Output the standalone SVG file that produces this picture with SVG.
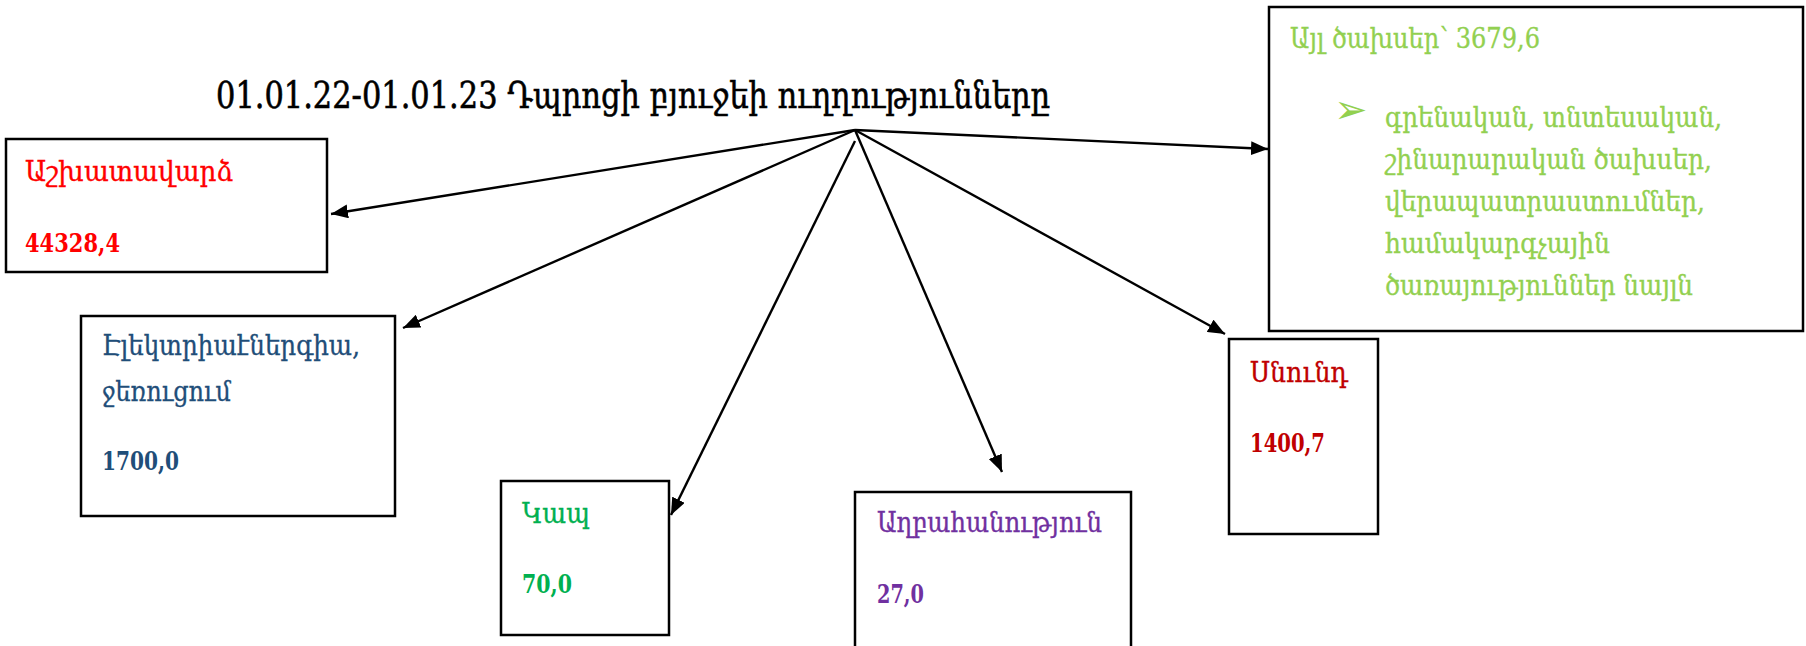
<svg xmlns="http://www.w3.org/2000/svg" width="1806" height="646" viewBox="0 0 1806 646">
<style>
text{font-family:"DejaVu Serif","Noto Sans",serif;font-size:28px;stroke-width:0.35}
.t{font-size:37px;fill:#000;stroke:#000;stroke-width:0.6}
.b{font-weight:bold;font-size:26px;stroke-width:0}
.box{fill:#fff;stroke:#000;stroke-width:2.5}
.con{stroke:#000;stroke-width:2.4;fill:none;marker-end:url(#ah)}
.red{fill:#FF0000;stroke:#FF0000}.blue{fill:#1F4E79;stroke:#1F4E79}.grn{fill:#00B050;stroke:#00B050}.pur{fill:#7030A0;stroke:#7030A0}.dred{fill:#C00000;stroke:#C00000}.lg{fill:#92D050;stroke:#92D050}
</style>
<defs>
<marker id="ah" markerUnits="userSpaceOnUse" markerWidth="18" markerHeight="14" refX="17" refY="7" orient="auto">
<path d="M0,0 L17,7 L0,14 z" fill="#000"/>
</marker>
</defs>
<rect width="1806" height="646" fill="#fff"/>
<g id="title">
<text class="t" x="216" y="108" textLength="834" lengthAdjust="spacingAndGlyphs">01.01.22-01.01.23 Դպրոցի բյուջեի ուղղությունները</text>
</g>
<g id="connectors">
<line class="con" x1="855" y1="130" x2="331" y2="214"/>
<line class="con" x1="855" y1="130" x2="403" y2="328"/>
<line class="con" x1="855" y1="141" x2="671" y2="515"/>
<line class="con" x1="855" y1="130" x2="1002" y2="472"/>
<line class="con" x1="855" y1="130" x2="1225" y2="334"/>
<line class="con" x1="855" y1="130" x2="1268" y2="149"/>
</g>
<g id="node-salary">
<rect class="box" x="6" y="139" width="321" height="133"/>
<text class="red" x="25" y="181" textLength="208" lengthAdjust="spacingAndGlyphs">Աշխատավարձ</text>
<text class="red b" x="25" y="252" textLength="95" lengthAdjust="spacingAndGlyphs">44328,4</text>
</g>
<g id="node-energy">
<rect class="box" x="81" y="316" width="314" height="200"/>
<text class="blue" x="102" y="355" textLength="258" lengthAdjust="spacingAndGlyphs">Էլեկտրիաէներգիա,</text>
<text class="blue" x="102" y="401" textLength="129" lengthAdjust="spacingAndGlyphs">ջեռուցում</text>
<text class="blue b" x="102" y="470" textLength="77" lengthAdjust="spacingAndGlyphs">1700,0</text>
</g>
<g id="node-comm">
<rect class="box" x="501" y="481" width="168" height="154"/>
<text class="grn" x="522" y="523" textLength="68" lengthAdjust="spacingAndGlyphs">Կապ</text>
<text class="grn b" x="522" y="593" textLength="50" lengthAdjust="spacingAndGlyphs">70,0</text>
</g>
<g id="node-waste">
<rect class="box" x="855" y="492" width="276" height="170"/>
<text class="pur" x="877" y="532" textLength="225" lengthAdjust="spacingAndGlyphs">Աղբահանություն</text>
<text class="pur b" x="877" y="603" textLength="47" lengthAdjust="spacingAndGlyphs">27,0</text>
</g>
<g id="node-food">
<rect class="box" x="1229" y="339" width="149" height="195"/>
<text class="dred" x="1250" y="382" textLength="98" lengthAdjust="spacingAndGlyphs">Սնունդ</text>
<text class="dred b" x="1250" y="452" textLength="75" lengthAdjust="spacingAndGlyphs">1400,7</text>
</g>
<g id="node-other">
<rect class="box" x="1269" y="7" width="534" height="324"/>
<text class="lg" x="1290" y="48" textLength="250" lengthAdjust="spacingAndGlyphs">Այլ ծախսեր՝ 3679,6</text>
<text class="lg" x="1334" y="123" style="font-family:'DejaVu Sans',sans-serif;font-size:40px;stroke-width:0">➢</text>
<text class="lg" x="1385" y="127" textLength="337" lengthAdjust="spacingAndGlyphs">գրենական, տնտեսական,</text>
<text class="lg" x="1385" y="169" textLength="327" lengthAdjust="spacingAndGlyphs">շինարարական ծախսեր,</text>
<text class="lg" x="1385" y="211" textLength="320" lengthAdjust="spacingAndGlyphs">վերապատրաստումներ,</text>
<text class="lg" x="1385" y="253" textLength="225" lengthAdjust="spacingAndGlyphs">համակարգչային</text>
<text class="lg" x="1385" y="295" textLength="308" lengthAdjust="spacingAndGlyphs">ծառայություններ նայլն</text>
</g>
</svg>
